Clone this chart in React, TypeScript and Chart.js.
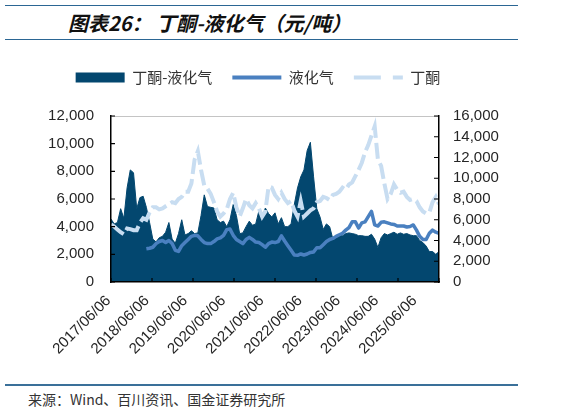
import React, { useEffect, useRef } from 'react';
import { Chart, registerables } from 'chart.js';

Chart.register(...registerables);

const X_LABELS = ['2017/06/06', '2018/06/06', '2019/06/06', '2020/06/06', '2021/06/06', '2022/06/06', '2023/06/06', '2024/06/06', '2025/06/06'];

// 丁酮-液化气 (left axis)
const SPREAD = [
  4550, 4200, 4300, 5300, 4600, 6800, 8100, 7900, 5300, 6100,
  6200, 5400, 4300, 3100, 2900, 3200, 3300, 3600, 4300, 3100,
  2800, 3500, 4500, 3400, 3500, 3700, 3500, 3550, 4800, 6300,
  5450, 5400, 5350, 4500, 4300, 4400, 4000, 4500, 5600, 4800,
  3500, 3550, 4000, 4400, 4100, 4200, 5150, 4650, 5350, 4950,
  4700, 5000, 4200, 4650, 4000, 4000, 4200, 5600, 6800, 7600,
  8100, 9500, 10100, 7600, 5300, 4700, 3800, 4200, 4000, 3100,
  3200, 3350, 3350, 3500, 3550, 3500, 3450, 3350, 3350, 3300,
  3300, 3450, 3100, 2500, 3200, 3500, 3400, 3500, 3600, 3450,
  3550, 3450, 3500, 3400, 3350, 3350, 3000, 2850, 2600, 2200,
  2200, 2000, 2200,
];

// 液化气 (right axis)
const LPG = [
  null, null, null, null, null, null, null, null, null, null,
  null, 3200, 3250, 3350, 3700, 3900, 4000, 3800, 4000, 3700,
  3050, 2950, 3500, 3800, 4100, 4400, 4500, 4450, 4100, 3800,
  3700, 3700, 3900, 4150, 4250, 4500, 5050, 5100, 4500, 4100,
  3900, 3700, 4100, 4300, 4100, 3850, 3800, 3600, 3350, 3700,
  3850, 3800, 3900, 4450, 3950, 3500, 3050, 2600, 2570, 2700,
  2600, 2700, 2850, 2900, 3300, 3300, 3600, 3900, 4100, 4200,
  4400, 4550, 4700, 5000, 5250, 5800, 5800, 5200, 5700, 5800,
  6300, 6800, 5500, 5400, 5750, 5800, 5700, 5600, 5550, 5400,
  5400, 5400, 5300, 5350, 5500, 5000, 4400, 4100, 4100, 4700,
  5000, 4800, 4700,
];

// 丁酮 (right axis)
const MEK = [
  5550, 5350, 5050, 4800, 4600, 5150, 5100, 5000, 5000, 5700,
  6150, 6000, 6700, 7200, 7200, 7000, 7100, 7300, 7500, 7700,
  7600, 8000, 8200, 8700, 8700, 9500, 11800, 12600, 10800, 9300,
  9000, 8500, 7700, 6800, 6300, 6600, 7000, 8000, 8600, 7200,
  6300, 7100, 8000, 7400, 7100, 7600, 7100, 6300, 6800, 9200,
  9100, 8400, 8000, 8600, 8000, 7600, 7800, 6900, 6300, 7800,
  6300, 6600, 6900, 7100, 7700, 7800, 8200, 8100, 7900, 8400,
  8500, 8700, 9100, 8900, 9400, 9600, 10200, 10800, 11500, 12500,
  13200, 14100, 15000, 11800, 11200, 9500, 8000, 8500, 9400, 8900,
  8600, 8700, 8200, 7900, 8000, 7800, 7200, 6800, 6600, 6700,
  7700, 8200, 7500,
];

const LEFT_MAX = 12000;
const RIGHT_MAX = 16000;
const STEP = 2000;
const SAMPLES_PER_YEAR = 11.9;
const LABEL_OFFSET = -0.75;
const X_TICK_DIVISIONS = 8;

const DARK = '#03476F';
const MID = '#4A80C0';
const LIGHT = '#C8DDF1';
const RULE = '#2B6694';

export default function App() {
  const ref = useRef<HTMLCanvasElement>(null);

  useEffect(() => {
    const canvas = ref.current;
    if (!canvas) return;
    const toPts = (arr: (number | null)[]) => arr.map((v, i) => ({ x: i, y: v }));
    const labelPositions = X_LABELS.map((_, k) => k * SAMPLES_PER_YEAR + LABEL_OFFSET);
    const fmt = (v: any) => Number(v).toLocaleString('en-US');
    const tickFont = { family: "'Liberation Sans', Arial, sans-serif", size: 15 };

    const innerTicks = {
      id: 'innerTicks',
      afterDraw(chart: any) {
        const { ctx, chartArea: a, scales } = chart;
        ctx.save();
        ctx.strokeStyle = '#000';
        ctx.lineWidth = 1.2;
        ctx.beginPath();
        scales.y.ticks.forEach((_: any, i: number) => {
          const p = scales.y.getPixelForTick(i);
          ctx.moveTo(a.left, p);
          ctx.lineTo(a.left + 4, p);
        });
        scales.y1.ticks.forEach((_: any, i: number) => {
          const p = scales.y1.getPixelForTick(i);
          ctx.moveTo(a.right, p);
          ctx.lineTo(a.right - 5, p);
        });
        for (let k = 0; k <= X_TICK_DIVISIONS; k++) {
          const p = scales.x.getPixelForDecimal(k / X_TICK_DIVISIONS);
          ctx.moveTo(p, a.bottom);
          ctx.lineTo(p, a.bottom - 4);
        }
        ctx.stroke();
        ctx.restore();
      },
    };

    const chart = new Chart(canvas, {
      type: 'line',
      data: {
        datasets: [
          {
            label: '丁酮-液化气',
            data: toPts(SPREAD),
            yAxisID: 'y',
            fill: 'origin',
            backgroundColor: DARK,
            borderColor: DARK,
            borderWidth: 1,
            pointRadius: 0,
            tension: 0,
            order: 3,
          },
          {
            label: '液化气',
            data: toPts(LPG),
            yAxisID: 'y1',
            fill: false,
            borderColor: MID,
            borderWidth: 3.5,
            borderJoinStyle: 'round',
            pointRadius: 0,
            tension: 0,
            order: 2,
          },
          {
            label: '丁酮',
            data: toPts(MEK),
            yAxisID: 'y1',
            fill: false,
            borderColor: LIGHT,
            borderWidth: 4,
            borderDash: [16, 5],
            pointRadius: 0,
            tension: 0,
            order: 1,
          },
        ] as any,
      },
      options: {
        responsive: true,
        maintainAspectRatio: false,
        animation: false,
        layout: { padding: 0 },
        plugins: {
          tooltip: { enabled: false },
          subtitle: {
            display: true,
            text: ' ',
            font: { size: 1, lineHeight: 1 },
            padding: { top: 0, bottom: 20 },
            weight: 500,
          } as any,
          legend: {
            display: true,
            position: 'top',
            labels: {
              usePointStyle: true,
              pointStyleWidth: 49,
              boxHeight: 10,
              padding: 20,
              color: '#333',
              font: { family: "'Noto Sans CJK SC', sans-serif", size: 15 },
              sort: (a: any, b: any) => a.datasetIndex - b.datasetIndex,
              generateLabels: (ch: any) =>
                ch.data.datasets.map((ds: any, i: number) => ({
                  text: ds.label,
                  datasetIndex: i,
                  fillStyle: i === 0 ? DARK : 'rgba(0,0,0,0)',
                  strokeStyle: i === 0 ? DARK : ds.borderColor,
                  lineWidth: i === 0 ? 0 : 4,
                  lineDash: i === 2 ? [27, 12] : [],
                  pointStyle: i === 0 ? 'rect' : 'line',
                  hidden: false,
                  fontColor: '#333',
                })),
            },
          },
        },
        scales: {
          x: {
            type: 'linear',
            min: 0,
            max: SPREAD.length - 1,
            afterBuildTicks: (scale: any) => {
              scale.ticks = labelPositions.map((v) => ({ value: v }));
            },
            afterFit: (scale: any) => {
              scale.height = 80;
            },
            ticks: {
              autoSkip: false,
              maxRotation: 45,
              minRotation: 45,
              padding: 10,
              color: '#262626',
              font: tickFont,
              callback: (_v: any, i: number) => X_LABELS[i],
            },
            grid: { display: true, color: 'rgba(0,0,0,0)', drawTicks: false },
            border: { display: true, color: '#000', width: 1.5, z: 1 } as any,
          },
          y: {
            type: 'linear',
            position: 'left',
            min: 0,
            max: LEFT_MAX,
            afterFit: (scale: any) => {
              scale.width = 111;
            },
            ticks: { stepSize: STEP, autoSkip: false, padding: 17, color: '#262626', font: tickFont, callback: fmt },
            grid: {
              display: true,
              drawTicks: false,
              lineWidth: 1,
              color: (c: any) => (c.tick && c.tick.value === LEFT_MAX ? '#c4c4c4' : 'rgba(0,0,0,0)'),
            },
            border: { display: true, color: '#000', width: 1.5, z: 1 } as any,
          },
          y1: {
            type: 'linear',
            position: 'right',
            min: 0,
            max: RIGHT_MAX,
            afterFit: (scale: any) => {
              scale.width = 77;
            },
            ticks: { stepSize: STEP, autoSkip: false, padding: 14, color: '#262626', font: tickFont, callback: fmt },
            grid: { display: true, drawOnChartArea: false, drawTicks: false, color: 'rgba(0,0,0,0)' },
            border: { display: true, color: '#000', width: 1.5, z: 1 } as any,
          },
        },
      } as any,
      plugins: [innerTicks],
    });
    return () => chart.destroy();
  }, []);

  return (
    <div
      style={{
        position: 'absolute',
        left: 0,
        top: 0,
        width: 563,
        height: 412,
        background: '#fff',
        overflow: 'hidden',
      }}
    >
      <div style={{ position: 'absolute', left: 5, top: 5, width: 513, height: 0, borderTop: `1.5px solid ${RULE}` }} />
      <div
        style={{
          position: 'absolute',
          left: 68,
          top: 12.5,
          fontFamily: "'Noto Sans CJK SC', sans-serif",
          fontSize: 20,
          lineHeight: '20px',
          fontWeight: 'bold',
          fontStyle: 'italic',
          color: '#111',
          whiteSpace: 'nowrap',
        }}
      >
        图表26： 丁酮-液化气（元/吨）
      </div>
      <div style={{ position: 'absolute', left: 5, top: 38.5, width: 513, height: 0, borderTop: `1.5px solid ${RULE}` }} />
      <div style={{ position: 'absolute', left: 0, top: 50, width: 516, height: 312 }}>
        <canvas ref={ref} />
      </div>
      <div style={{ position: 'absolute', left: 5, top: 384, width: 513, height: 0, borderTop: '2.5px solid #3A7099' }} />
      <div
        style={{
          position: 'absolute',
          left: 28,
          top: 392,
          fontFamily: "'Noto Sans CJK SC', sans-serif",
          fontSize: 14,
          lineHeight: '14px',
          color: '#333',
          whiteSpace: 'nowrap',
        }}
      >
        来源：Wind、百川资讯、国金证券研究所
      </div>
    </div>
  );
}
